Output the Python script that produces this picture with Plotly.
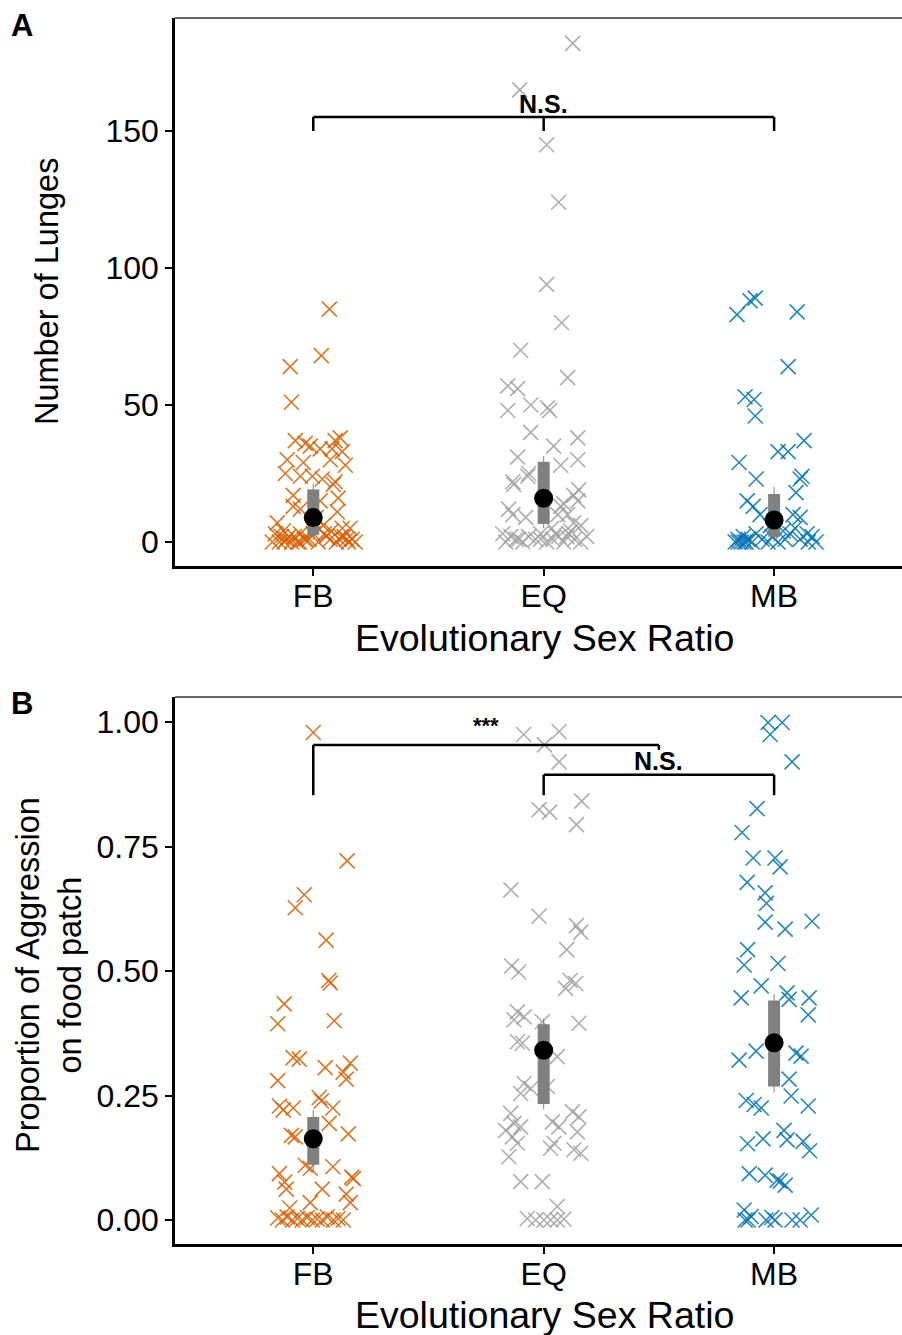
import plotly.graph_objects as go

# ---------------- data ----------------
groups = ["FB", "EQ", "MB"]
colors = {"FB": "#D55E00", "EQ": "#A0A0A0", "MB": "#0072B2"}

# Panel A: number of lunges per individual, with horizontal jitter (category units)
lunges_FB = [85, 68, 64, 51, 38, 37, 36, 37, 35, 34, 34, 33, 30, 29, 30, 28, 25, 24, 24, 23,
             22, 21, 17, 16, 15, 13, 12, 11, 9, 7, 6, 5, 5, 4, 3, 3, 2, 2, 2, 1,
             1, 1, 1, 0, 0, 0, 0, 0, 0, 0, 1, 2, 3, 0, 1, 4, 2, 0, 1, 3, 0, 2, 1]
jit_A_FB = [0.07, 0.035, -0.10, -0.095, 0.117, -0.078, -0.035, 0.095, -0.013, 0.082, 0.03, 0.126,
            -0.113, -0.043, 0.074, 0.139, -0.121, -0.056, -0.004, 0.039, 0.095, 0.087, -0.087,
            0.108, 0.03, -0.087, -0.056, 0.104, 0.013, -0.156, 0.043, 0.126, 0.16, 0.078, -0.165,
            -0.056, -0.139, 0.056, 0.134, -0.117, -0.017, 0.113, 0.169, -0.178, -0.147, -0.126,
            -0.095, -0.069, 0.022, 0.152, -0.039, -0.082, 0.0, 0.182, 0.074,
            -0.13, -0.106, -0.06, -0.03, 0.048, 0.1, 0.12, 0.145]

lunges_EQ = [182, 165, 145, 124, 94, 80, 70, 60, 57, 56, 48, 50, 49, 48, 40, 38, 35, 31, 30, 28,
             25, 24, 22, 21, 19, 17, 15, 14, 13, 12, 10, 10, 9, 10, 7, 6, 3, 2, 1, 0,
             2, 1, 3, 0, 1, 2, 0, 3, 1, 0, 2, 4, 0, 1, 3, 5, 2, 1]
jit_A_EQ = [0.126, -0.104, 0.013, 0.065, 0.013, 0.078, -0.10, 0.104, -0.156, -0.113, -0.156, -0.056,
            0.017, 0.026, -0.056, 0.148, 0.043, -0.113, 0.148, 0.074, -0.065, -0.069, -0.134, -0.13,
            0.152, 0.13, 0.148, 0.087, 0.074, -0.152, -0.134, 0.104, -0.078, 0.061, 0.13, 0.161,
            -0.178, -0.143, -0.108, -0.091, -0.065, -0.035, -0.013, 0.013, 0.039, 0.065, 0.087,
            0.108, 0.134, 0.161, 0.187, 0.117, -0.165, -0.013, 0.052, 0.035, 0.1, -0.12]

lunges_MB = [89, 88, 83, 84, 64, 53, 52, 46, 37, 33, 33, 29, 24, 23, 23, 18, 15, 13, 10, 10,
             9, 4, 3, 3, 0, 0, 1, 0, 2, 0, 1, 0, 3, 1, 0, 2, 0, 1, 5, 1,
             2, 0, 6, 0, 0]
jit_A_MB = [-0.082, -0.104, -0.161, 0.10, 0.061, -0.126, -0.087, -0.082, 0.13, 0.017, 0.061, -0.152,
            0.121, 0.113, -0.078, 0.095, -0.117, -0.091, -0.061, 0.082, 0.113, 0.039, 0.069, 0.143,
            0.148, -0.169, -0.156, -0.143, -0.134, -0.121, -0.113, -0.095, -0.078, -0.052, -0.026,
            -0.009, 0.017, 0.048, 0.091, 0.113, 0.165, 0.182, -0.017, -0.156, -0.13]

# Panel B: proportion of aggression on the food patch
prop_FB = [0.979, 0.721, 0.653, 0.627, 0.562, 0.481, 0.476, 0.434, 0.394, 0.40, 0.326, 0.323,
           0.306, 0.315, 0.297, 0.283, 0.28, 0.246, 0.239, 0.229, 0.221, 0.225, 0.225, 0.194,
           0.173, 0.17, 0.167, 0.093, 0.11, 0.104, 0.107, 0.076, 0.062, 0.062, 0.086, 0.083,
           0.052, 0.035, 0.035, 0.024, 0.004, 0.0, 0.006, 0.0, 0.003, 0.0, 0.005, 0.0, 0.002,
           0.0, 0.006, 0.0, 0.003, 0.0]
jit_B_FB = [0.0, 0.147, -0.039, -0.078, 0.056, 0.067, 0.074, -0.126, -0.154, 0.091, -0.087, -0.061,
            0.052, 0.161, 0.13, 0.143, -0.154, 0.026, 0.035, -0.147, -0.13, -0.087, 0.085, 0.069,
            0.152, -0.095, -0.078, -0.147, -0.035, -0.013, 0.085, -0.124, -0.117, 0.039, 0.167,
            0.174, 0.143, 0.161, -0.013, -0.102, -0.154, -0.134, -0.113, -0.091, -0.069, -0.048,
            -0.026, -0.004, 0.017, 0.039, 0.061, 0.087, 0.108, 0.13]

prop_EQ = [0.975, 0.981, 0.954, 0.920, 0.824, 0.819, 0.841, 0.794, 0.663, 0.610, 0.591, 0.578,
           0.543, 0.510, 0.498, 0.481, 0.475, 0.465, 0.418, 0.408, 0.402, 0.398, 0.395, 0.358,
           0.355, 0.328, 0.274, 0.264, 0.254, 0.268, 0.214, 0.194, 0.187, 0.167, 0.127, 0.18,
           0.154, 0.197, 0.187, 0.154, 0.144, 0.217, 0.207, 0.177, 0.141, 0.134, 0.077, 0.077,
           0.027, 0.003, 0.0, 0.0, 0.0, 0.002, 0.0]
jit_B_EQ = [-0.087, 0.067, 0.003, 0.067, -0.02, 0.026, 0.165, 0.142, -0.142, -0.02, 0.142, 0.161,
            0.10, -0.139, -0.108, 0.115, 0.139, 0.095, -0.114, -0.085, -0.129, -0.006, 0.153,
            -0.114, -0.092, 0.059, -0.085, -0.056, -0.10, 0.016, -0.143, -0.129, -0.10, -0.136,
            -0.151, -0.165, -0.114, 0.038, 0.066, 0.045, 0.03, 0.125, 0.153, 0.146, 0.131, 0.161,
            -0.10, -0.006, 0.059, -0.071, 0.001, 0.03, 0.059, 0.088, -0.035]

prop_MB = [0.999, 0.999, 0.975, 0.920, 0.826, 0.778, 0.727, 0.727, 0.709, 0.678, 0.657, 0.636,
           0.598, 0.584, 0.60, 0.543, 0.512, 0.515, 0.470, 0.446, 0.456, 0.443, 0.446, 0.412,
           0.321, 0.339, 0.335, 0.329, 0.283, 0.249, 0.229, 0.24, 0.232, 0.225, 0.153, 0.163,
           0.18, 0.161, 0.158, 0.139, 0.093, 0.09, 0.08, 0.078, 0.07, 0.02, 0.007, 0.005, 0.0,
           0.0, 0.01, 0.0, 0.0, 0.0, 0.0]
jit_B_MB = [-0.026, 0.035, -0.017, 0.078, -0.074, -0.139, -0.091, 0.004, 0.026, -0.117, -0.039,
            -0.033, -0.039, 0.048, 0.165, -0.115, -0.13, 0.017, -0.056, -0.143, 0.056, 0.065,
            0.152, 0.148, -0.152, -0.078, 0.095, 0.117, 0.065, 0.074, 0.148, -0.121, -0.087,
            -0.056, -0.115, -0.048, 0.043, 0.056, 0.126, 0.154, -0.108, -0.039, 0.013, 0.026,
            0.048, -0.13, -0.10, -0.01, 0.004, 0.078, 0.161, -0.126, -0.113, -0.035, 0.113]

# Summary statistics per group: mean, inner interval (thick bar), outer interval (thin line)
mean_A = [8.9, 16.0, 8.0]
bar_lo_A = [2.5, 6.6, 1.9]
bar_hi_A = [19.2, 29.3, 17.5]
line_lo_A = [0.7, 5.0, 0.0]
line_hi_A = [21.4, 31.4, 20.0]

mean_B = [0.163, 0.341, 0.356]
bar_lo_B = [0.111, 0.233, 0.268]
bar_hi_B = [0.207, 0.393, 0.441]
line_lo_B = [0.097, 0.222, 0.256]
line_hi_B = [0.221, 0.405, 0.453]

# ---------------- figure ----------------
W, H = 902, 1335
FONT = "Liberation Sans, Arial, Helvetica, sans-serif"


def py(px):
    """page pixel (from top) -> paper y"""
    return 1 - px / H


def pxx(px):
    return px / W


fig = go.Figure()

raw_A = {"FB": (lunges_FB, jit_A_FB), "EQ": (lunges_EQ, jit_A_EQ), "MB": (lunges_MB, jit_A_MB)}
raw_B = {"FB": (prop_FB, jit_B_FB), "EQ": (prop_EQ, jit_B_EQ), "MB": (prop_MB, jit_B_MB)}

for xa, ya, raw, mean, blo, bhi, llo, lhi in [
    ("x", "y", raw_A, mean_A, bar_lo_A, bar_hi_A, line_lo_A, line_hi_A),
    ("x2", "y2", raw_B, mean_B, bar_lo_B, bar_hi_B, line_lo_B, line_hi_B),
]:
    for i, g in enumerate(groups):
        vals, jit = raw[g]
        fig.add_trace(go.Scatter(
            x=[i + 1 + j for j in jit], y=vals, mode="markers", xaxis=xa, yaxis=ya,
            marker=dict(symbol="x-thin-open", size=15, opacity=0.85, color=colors[g],
                        line=dict(color=colors[g], width=1.6)),
            showlegend=False, hoverinfo="skip"))
    for i, g in enumerate(groups):
        c = i + 1
        fig.add_trace(go.Scatter(x=[c, c], y=[llo[i], lhi[i]], mode="lines", xaxis=xa, yaxis=ya,
                                 line=dict(color="#7f7f7f", width=1), showlegend=False,
                                 hoverinfo="skip"))
        fig.add_trace(go.Scatter(x=[c, c], y=[blo[i], bhi[i]], mode="lines", xaxis=xa, yaxis=ya,
                                 line=dict(color="#808080", width=12), showlegend=False,
                                 hoverinfo="skip"))
        fig.add_trace(go.Scatter(x=[c], y=[mean[i]], mode="markers", xaxis=xa, yaxis=ya,
                                 marker=dict(color="black", size=19), showlegend=False,
                                 hoverinfo="skip"))

# significance brackets (data coordinates)
def seg(xref, yref, x0, y0, x1, y1):
    fig.add_shape(type="line", xref=xref, yref=yref, x0=x0, y0=y0, x1=x1, y1=y1,
                  line=dict(color="black", width=2.5))

# panel A: FB vs EQ vs MB
seg("x", "y", 1, 155.1, 3, 155.1)
seg("x", "y", 1, 155.1, 1, 150)
seg("x", "y", 2, 155.1, 2, 150)
seg("x", "y", 3, 155.1, 3, 150)
# panel B: FB vs (EQ, MB) and EQ vs MB
seg("x2", "y2", 1, 0.954, 2.5, 0.954)
seg("x2", "y2", 1, 0.954, 1, 0.853)
seg("x2", "y2", 2.5, 0.954, 2.5, 0.944)
seg("x2", "y2", 2, 0.894, 3, 0.894)
seg("x2", "y2", 2, 0.894, 2, 0.853)
seg("x2", "y2", 3, 0.894, 3, 0.853)

ann = []
ann.append(dict(x=2, y=160.0, xref="x", yref="y", text="<b>N.S.</b>", showarrow=False,
                font=dict(family=FONT, size=25, color="black"), yanchor="middle"))
ann.append(dict(x=1.75, y=0.993, xref="x2", yref="y2", text="<b>***</b>", showarrow=False,
                font=dict(family=FONT, size=22, color="black"), yanchor="middle"))
ann.append(dict(x=2.5, y=0.921, xref="x2", yref="y2", text="<b>N.S.</b>", showarrow=False,
                font=dict(family=FONT, size=25, color="black"), yanchor="middle"))

# panel letters
ann.append(dict(x=pxx(22), y=py(25), xref="paper", yref="paper", text="<b>A</b>", showarrow=False,
                font=dict(family=FONT, size=31, color="black"), xanchor="center", yanchor="middle"))
ann.append(dict(x=pxx(22), y=py(703), xref="paper", yref="paper", text="<b>B</b>", showarrow=False,
                font=dict(family=FONT, size=31, color="black"), xanchor="center", yanchor="middle"))

# axis titles
for yc in (638, 1315):
    ann.append(dict(x=pxx(544), y=py(yc), xref="paper", yref="paper", text="Evolutionary Sex Ratio",
                    showarrow=False, font=dict(family=FONT, size=37.5, color="black"),
                    xanchor="center", yanchor="middle"))
ann.append(dict(x=pxx(47), y=py(292), xref="paper", yref="paper", text="Number of Lunges",
                showarrow=False, textangle=-90, font=dict(family=FONT, size=32.5, color="black"),
                xanchor="center", yanchor="middle"))
ann.append(dict(x=pxx(49), y=py(975), xref="paper", yref="paper",
                text="Proportion of Aggression<br>on food patch",
                showarrow=False, textangle=-90, font=dict(family=FONT, size=32.5, color="black"),
                xanchor="center", yanchor="middle"))

# top border lines of each panel
for ytop in (18, 697):
    fig.add_shape(type="line", xref="paper", yref="paper", x0=pxx(175), x1=1, y0=py(ytop),
                  y1=py(ytop), line=dict(color="#333333", width=1.5))

xcommon = dict(tickmode="array", tickvals=[1, 2, 3], ticktext=groups, range=[0.4, 3.555],
               showline=True, linecolor="black", linewidth=2.5, ticks="outside", ticklen=7,
               tickwidth=2, tickcolor="black", showgrid=False, zeroline=False,
               ticklabelstandoff=-7,
               tickfont=dict(family=FONT, size=32, color="black"), domain=[pxx(175), 1])
ycommon = dict(showline=True, linecolor="black", linewidth=2.5, ticks="outside", ticklen=7,
               tickwidth=2, tickcolor="black", showgrid=False, zeroline=False,
               tickfont=dict(family=FONT, size=32, color="black"))

fig.update_layout(
    width=W, height=H, autosize=False, margin=dict(l=0, r=0, t=0, b=0),
    plot_bgcolor="white", paper_bgcolor="white",
    xaxis=dict(**xcommon, anchor="y"),
    yaxis=dict(**ycommon, anchor="x", domain=[py(566), py(18)], range=[-8.76, 191.24],
               tickvals=[0, 50, 100, 150]),
    xaxis2=dict(**xcommon, anchor="y2"),
    yaxis2=dict(**ycommon, anchor="x2", domain=[py(1244), py(697)], range=[-0.0482, 1.0502],
                tickvals=[0, 0.25, 0.5, 0.75, 1.0], ticktext=["0.00", "0.25", "0.50", "0.75", "1.00"]),
    annotations=ann,
)

fig.write_html("out.html")
